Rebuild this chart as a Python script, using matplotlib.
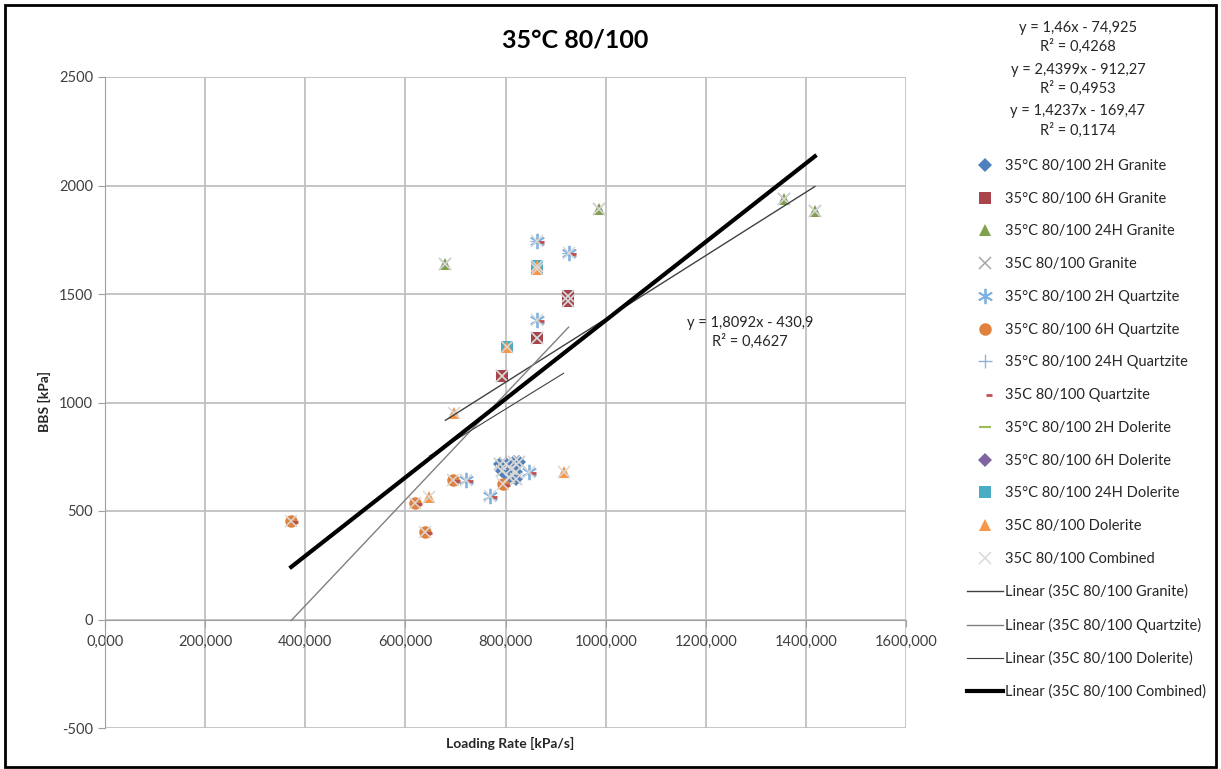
import matplotlib
matplotlib.use("Agg")
import matplotlib.pyplot as plt
import numpy as np
from matplotlib.lines import Line2D
from matplotlib.path import Path
from matplotlib.patches import Rectangle

plt.rcParams['font.family'] = ['Lato', 'DejaVu Sans']
plt.rcParams['axes.unicode_minus'] = False

# ---------------- data ----------------
title = "35°C 80/100"
x_label = "Loading Rate [kPa/s]"
y_label = "BBS [kPa]"

x_ticks = [0, 200, 400, 600, 800, 1000, 1200, 1400, 1600]
x_tick_labels = ["0,000", "200,000", "400,000", "600,000", "800,000",
                 "1000,000", "1200,000", "1400,000", "1600,000"]
y_ticks = [-500, 0, 500, 1000, 1500, 2000, 2500]

granite_2h_x = [790, 800, 816, 826, 794, 810, 820, 820, 806]
granite_2h_y = [715, 715, 724, 724, 683, 692, 678, 646, 655]
granite_6h_x = [794, 862, 924, 924]
granite_6h_y = [1120, 1298, 1466, 1490]
granite_24h_x = [680, 986, 1356, 1418]
granite_24h_y = [1640, 1893, 1938, 1882]

quartz_2h_x = [722, 770, 846, 862]
quartz_2h_y = [645, 570, 680, 1380]
quartz_6h_x = [372, 620, 640, 696, 796]
quartz_6h_y = [452, 535, 403, 645, 625]
quartz_24h_x = [862, 926]
quartz_24h_y = [1745, 1690]

dol_2h_x = []
dol_2h_y = []
dol_6h_x = []
dol_6h_y = []
dol_24h_x = [802, 862, 862]
dol_24h_y = [1255, 1630, 1615]
dol_comb_x = [648, 698, 916]
dol_comb_y = [565, 952, 680]

# trendline coefficients (slope, intercept, R²) as printed on the chart
granite_fit = (1.46, -74.925, 0.4268)
quartz_fit = (2.4399, -912.27, 0.4953)
dol_fit = (1.4237, -169.47, 0.1174)
comb_fit = (1.8092, -430.9, 0.4627)

# ---------------- derived combined series ----------------
granite_x = granite_2h_x + granite_6h_x + granite_24h_x
granite_y = granite_2h_y + granite_6h_y + granite_24h_y
quartz_x = quartz_2h_x + quartz_6h_x + quartz_24h_x
quartz_y = quartz_2h_y + quartz_6h_y + quartz_24h_y
dol_x = dol_2h_x + dol_6h_x + dol_24h_x + dol_comb_x
dol_y = dol_2h_y + dol_6h_y + dol_24h_y + dol_comb_y
comb_x = granite_x + quartz_x + dol_x
comb_y = granite_y + quartz_y + dol_y

W, H = 1221, 769
fig = plt.figure(figsize=(W / 100, H / 100), dpi=100)
fig.patch.set_facecolor('white')
ax = fig.add_axes([105 / W, 1 - 728 / H, (906 - 105) / W, (728 - 77) / H])

ax.set_xlim(0, 1600)
ax.set_ylim(-500, 2500)
ax.set_xticks(x_ticks)
ax.set_xticklabels(x_tick_labels)
ax.set_yticks(y_ticks)
ax.grid(True, color='#C0C0C0', lw=1.3)
ax.set_axisbelow(True)
for s in ['top', 'right']:
    ax.spines[s].set_visible(False)
ax.spines['bottom'].set_position(('data', 0))
ax.spines['bottom'].set_color('#A0A0A0')
ax.spines['left'].set_color('#A0A0A0')
ax.tick_params(axis='both', colors='#A0A0A0', labelcolor='#404040', labelsize=10.5,
               length=5, direction='out')
ax.tick_params(axis='x', pad=6)

dash_marker = Path([(0.15, -0.1), (1.0, -0.1)], [Path.MOVETO, Path.LINETO])
asterisk = (6, 2, 0)

series = [
    (granite_2h_x, granite_2h_y, dict(marker='D', color='#4F81BD', ms=7, mew=0), "35°C 80/100 2H Granite"),
    (granite_6h_x, granite_6h_y, dict(marker='s', color='#A8444A', ms=9, mew=0), "35°C 80/100 6H Granite"),
    (granite_24h_x, granite_24h_y, dict(marker='^', color='#7FA14A', ms=9, mew=0), "35°C 80/100 24H Granite"),
    (granite_x, granite_y, dict(marker='x', color='#A6A6A6', ms=8, mew=1.1), "35C 80/100 Granite"),
    (quartz_2h_x + quartz_24h_x, quartz_2h_y + quartz_24h_y, dict(marker=asterisk, color='#7FB2E0', ms=11, mew=1.3), "35°C 80/100 2H Quartzite"),
    (quartz_6h_x, quartz_6h_y, dict(marker='o', color='#E0823D', ms=9, mew=0), "35°C 80/100 6H Quartzite"),
    (quartz_24h_x, quartz_24h_y, dict(marker='+', color='#95B3D7', ms=10, mew=1.0), "35°C 80/100 24H Quartzite"),
    (quartz_x, quartz_y, dict(marker=dash_marker, color='#C0504D', ms=10, mew=2.0), "35C 80/100 Quartzite"),
    (dol_2h_x, dol_2h_y, dict(marker='_', color='#9BBB59', ms=9, mew=1.5), "35°C 80/100 2H Dolerite"),
    (dol_6h_x, dol_6h_y, dict(marker='D', color='#8064A2', ms=7, mew=0), "35°C 80/100 6H Dolerite"),
    (dol_24h_x, dol_24h_y, dict(marker='s', color='#4BACC6', ms=9, mew=0), "35°C 80/100 24H Dolerite"),
    (dol_x, dol_y, dict(marker='^', color='#F79646', ms=9, mew=0), "35C 80/100 Dolerite"),
    (comb_x, comb_y, dict(marker='x', color='#D9D9D9', ms=8, mew=1.1), "35C 80/100 Combined"),
]

handles, labels = [], []
for i, (xs, ys, st, lab) in enumerate(series):
    ax.plot(xs, ys, ls='none', zorder=3 + i * 0.01, clip_on=False, **st)
    handles.append(Line2D([], [], ls='none', **st))
    labels.append(lab)

fits = [
    (granite_x, granite_fit, '#404040', 1.0, "Linear (35C 80/100 Granite)"),
    (quartz_x, quartz_fit, '#808080', 1.0, "Linear (35C 80/100 Quartzite)"),
    (dol_x, dol_fit, '#404040', 0.8, "Linear (35C 80/100 Dolerite)"),
    (comb_x, comb_fit, '#000000', 3.0, "Linear (35C 80/100 Combined)"),
]
for xs, (m, b, r2), c, lw, lab in fits:
    xx = np.array([min(xs), max(xs)], dtype=float)
    ax.plot(xx, m * xx + b, color=c, lw=lw, zorder=4)
    handles.append(Line2D([], [], color=c, lw=lw))
    labels.append(lab)


def fmt(v, nd):
    s = f"{v:.{nd}f}".rstrip('0').rstrip('.')
    return s.replace('.', ',')


def eq_text(fit, nd_m, nd_b):
    m, b, r2 = fit
    sign = '-' if b < 0 else '+'
    return f"y = {fmt(m, nd_m)}x {sign} {fmt(abs(b), nd_b)}", f"R² = {fmt(r2, 4)}"

# combined equation on the plot
e1, e2 = eq_text(comb_fit, 4, 3)
fig.text(750 / W, 1 - 323 / H, e1, ha='center', va='center', fontsize=10.5, color='#262626')
fig.text(750 / W, 1 - 341 / H, e2, ha='center', va='center', fontsize=10.5, color='#262626')

# other equations at top right
ys_top = [(28, 46), (70, 88), (111, 130)]
for fit, (ya, yb) in zip([granite_fit, quartz_fit, dol_fit], ys_top):
    a, b = eq_text(fit, 4, 3)
    fig.text(1078 / W, 1 - ya / H, a, ha='center', va='center', fontsize=10.5, color='#262626')
    fig.text(1078 / W, 1 - yb / H, b, ha='center', va='center', fontsize=10.5, color='#262626')

fig.text(575 / W, 1 - 40 / H, title, ha='center', va='center', fontsize=18,
         fontweight='bold', color='#000000')
fig.text(510 / W, 1 - 743 / H, x_label, ha='center', va='center', fontsize=10,
         fontweight='bold', color='#262626')
fig.text(44 / W, 1 - 402 / H, y_label, ha='center', va='center', fontsize=10,
         fontweight='bold', color='#262626', rotation=90)

leg = fig.legend(handles, labels, loc='upper left', bbox_to_anchor=(967 / W, 1 - 159 / H),
                 frameon=False, fontsize=10.5, handlelength=2.45, handletextpad=0.15,
                 labelspacing=1.285, borderpad=0, borderaxespad=0, labelcolor='#262626')

fig.patches.append(Rectangle((5 / W, 2 / H), (1216 - 5) / W, (764 - 2) / H,
                             transform=fig.transFigure, fill=False, ec='black', lw=2))

fig.savefig('out.png', dpi=100)
